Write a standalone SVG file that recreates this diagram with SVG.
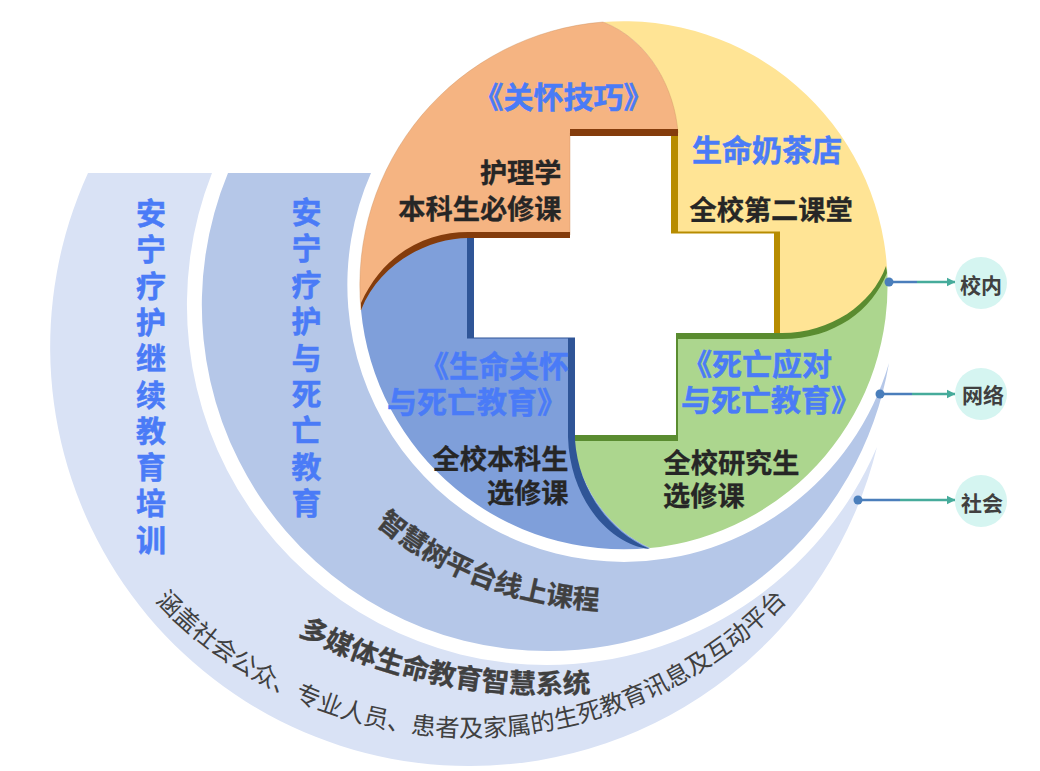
<svg xmlns="http://www.w3.org/2000/svg" width="1040" height="771" viewBox="0 0 1040 771">
<style>
text{font-family:"Noto Sans CJK SC","Noto Sans",sans-serif}
.h{fill:#4a7bf7;font-weight:700;font-size:30px;stroke:#4a7bf7;stroke-width:.5}
.d{fill:#262626;font-weight:700;font-size:27.200px;stroke:#262626;stroke-width:.3}
.v{fill:#4a7bf7;font-weight:700;font-size:30px;text-anchor:middle;stroke:#4a7bf7;stroke-width:.5}
.r{fill:#404040;font-weight:700;font-size:27.500px;stroke:#404040;stroke-width:.3}
.r2{font-size:27px}
.l{fill:#404040;font-weight:400;font-size:24.400px}
.n{fill:#404040;font-weight:700;font-size:21px;text-anchor:middle}
.e{text-anchor:end}
.ball{fill:#d5f5f1}
.cb{stroke:#4a7ebb;stroke-width:2.500;fill:none}
.ct{stroke:#46ab9b;stroke-width:2.500;fill:none;marker-end:url(#ah)}
.dot{fill:#4a7ebb}
</style>
<defs>
<marker id="ah" markerUnits="userSpaceOnUse" markerWidth="9" markerHeight="10" refX="8.500" refY="5" orient="auto"><path d="M0,0.500 L9,5 L0,9.500 Z" fill="#46ab9b"/></marker>
<path id="p1" d="M376,524 Q468,602 600,610"/>
<path id="p2" d="M298,634 Q430,704 594,692"/>
<path id="p3" d="M155,601 A435,435 0 0 0 787,601"/>
</defs>
<g id="band-outer">
<path d="M88,173 A419,419 0 0 0 469,766 A419,419 0 0 0 877,447 A360,360 0 0 1 547,665 A360,360 0 0 1 212,173 Z" fill="#d9e2f5"/>
<text class="v" x="151 151 151 151 151 151 151 151 151 151" y="224 260.300 296.600 332.900 369.200 405.500 441.800 478.100 514.400 550.700">安宁疗护继续教育培训</text>
<text class="r"><textPath href="#p2">多媒体生命教育智慧系统</textPath></text>
<text class="l"><textPath href="#p3">涵盖社会公众、专业人员、患者及家属的生死教育讯息及互动平台</textPath></text>
</g>
<g id="band-middle">
<path d="M228,173 A346,346 0 0 0 548,651 A346,346 0 0 0 889,363 A277,277 0 0 1 624,562 A277,277 0 0 1 371,173 Z" fill="#b5c7e8"/>
<text class="v" x="306.500 306.500 306.500 306.500 306.500 306.500 306.500 306.500 306.500" y="223 259.400 295.800 332.200 368.600 405 441.400 477.800 514.200">安宁疗护与死亡教育</text>
<text class="r r2"><textPath href="#p1">智慧树平台线上课程</textPath></text>
</g>
<g id="quadrant-yellow">
<path d="M603,22 A264,264 0 0 1 887,268 C870,310 825,335 780,336 L778,233 L675,233 L675,130 C675,90 650,40 603,22 Z" fill="#ffe495"/>
<path d="M671,136 H678 V231.500 H780 V335 H774 V233.500 H671 Z" fill="#b78c00"/>
<text class="h" x="692" y="161">生命奶茶店</text>
<text class="d" x="689.500" y="220">全校第二课堂</text>
</g>
<g id="quadrant-green">
<path d="M887,268 A264,264 0 0 1 650,548 C610,530 580,490 572,438 L676,438 L676,336 L780,336 C825,335 870,310 887,268 Z" fill="#acd68e"/>
<path d="M886,266 C872,305 830,333 782,333 H676 V435 H575 V441 H678 V339 H782 C835,339 872,310 887,273 Z" fill="#5a8c30"/>
<text class="h" x="682" y="375">《死亡应对</text>
<text class="h" x="681" y="411">与死亡教育》</text>
<text class="d" x="663.500" y="473">全校研究生</text>
<text class="d" x="663" y="506">选修课</text>
</g>
<g id="quadrant-blue">
<path d="M361,310 A264,264 0 0 0 650,548 C610,530 580,490 572,438 L572,338 L470,338 L470,235 C420,235 372,265 361,310 Z" fill="#7f9fda"/>
<path d="M467,238 H474 V337.500 H575 V338.500 H467 Z" fill="#2f5597"/>
<path d="M568,338 H575 V440 C578,485 605,530 650,549 C610,545 570,500 568,437 Z" fill="#2f5597"/>
<text class="h e" x="569" y="377">《生命关怀</text>
<text class="h" x="387" y="413">与死亡教育》</text>
<text class="d e" x="568.500" y="469">全校本科生</text>
<text class="d e" x="568.500" y="503">选修课</text>
</g>
<g id="quadrant-orange">
<path d="M603,22 A264,264 0 0 0 361,310 C372,265 420,235 468,235 L570,235 L570,133 L678,133 C675,90 650,40 603,22 Z" fill="#f5b482" stroke="#c9905f" stroke-width=".4"/>
<path d="M570,129 H678 V136 H570 Z" fill="#843c0c"/>
<path d="M570,232 H468 C430,232 385,250 361,303 L361,310 C380,262 430,238 468,238 H570 Z" fill="#843c0c"/>
<text class="h" x="473.500" y="108">《关怀技巧》</text>
<text class="d e" x="561.500" y="183">护理学</text>
<text class="d e" x="561.500" y="219">本科生必修课</text>
</g>
<g id="connectors">
<path class="cb" d="M889,282 H917"/><path class="ct" d="M917,282 H955"/><circle class="dot" cx="889" cy="282" r="4.500"/>
<path class="cb" d="M880,394 H912"/><path class="ct" d="M912,394 H955"/><circle class="dot" cx="880" cy="394" r="4.500"/>
<path class="cb" d="M858,500 H900"/><path class="ct" d="M900,500 H955"/><circle class="dot" cx="858" cy="500" r="4.500"/>
</g>
<g id="node-campus"><circle class="ball" cx="981" cy="283" r="26"/><text class="n" x="981" y="293">校内</text></g>
<g id="node-network"><circle class="ball" cx="981" cy="394" r="26"/><text class="n" x="983" y="403">网络</text></g>
<g id="node-society"><circle class="ball" cx="981" cy="501" r="26"/><text class="n" x="982" y="511">社会</text></g>
</svg>
